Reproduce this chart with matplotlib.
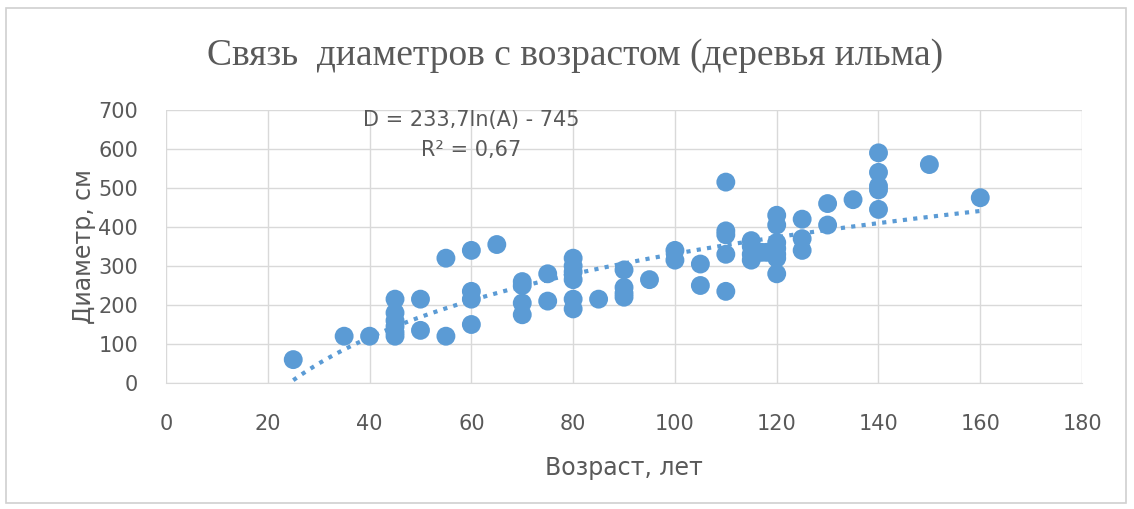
import numpy as np
import matplotlib
matplotlib.use("Agg")
from matplotlib import pyplot as plt
from matplotlib.patches import Rectangle

# возраст (лет) и диаметр (см)
age = [25, 35, 40,
       45, 45, 45, 45, 45, 45,
       50, 50, 55, 55,
       60, 60, 60, 60, 65,
       70, 70, 70, 70, 75, 75,
       80, 80, 80, 80, 80, 80, 85,
       90, 90, 90, 90, 95, 100, 100, 105, 105,
       110, 110, 110, 110, 110,
       115, 115, 115, 115, 117, 118,
       120, 120, 120, 120, 120, 120, 120,
       125, 125, 125, 130, 130, 135,
       140, 140, 140, 140, 140, 150, 160]
diameter = [60, 120, 120,
            215, 180, 160, 145, 130, 120,
            215, 135, 320, 120,
            340, 235, 215, 150, 355,
            260, 250, 205, 175, 280, 210,
            320, 300, 285, 265, 215, 190, 215,
            290, 245, 230, 220, 265, 340, 315, 305, 250,
            515, 390, 380, 330, 235,
            365, 350, 330, 315, 335, 335,
            430, 405, 360, 345, 330, 320, 280,
            420, 370, 340, 460, 405, 470,
            590, 540, 505, 495, 445, 560, 475]

# логарифмический тренд из подписи на графике
trend_a = 233.7
trend_b = -745
trend_range = (25, 160)

x_ticks = [0, 20, 40, 60, 80, 100, 120, 140, 160, 180]
y_ticks = [0, 100, 200, 300, 400, 500, 600, 700]

blue = "#5B9BD5"
grid = "#D9D9D9"
text_gray = "#595959"
sans = ["Liberation Sans Narrow", "DejaVu Sans"]

fig = plt.figure(figsize=(11.34, 5.09), dpi=100)
fig.patches.append(Rectangle((0.005, 0.012), 0.988, 0.972, transform=fig.transFigure,
                             fill=False, edgecolor="#D0D0D0", linewidth=1.2))

ax = fig.add_axes([0.1464, 0.2475, 0.8078, 0.5365])
ax.scatter(age, diameter, s=185, color=blue, edgecolors="none", zorder=3)

xs = np.linspace(trend_range[0], trend_range[1], 200)
ax.plot(xs, trend_a * np.log(xs) + trend_b, color=blue, linewidth=3.0,
        linestyle=(0, (1.0, 1.5)), dash_capstyle="butt", zorder=2)

ax.set_xlim(0, 180)
ax.set_ylim(0, 700)
ax.set_xticks(x_ticks)
ax.set_yticks(y_ticks)
ax.grid(True, color=grid, linewidth=1.0)
ax.set_axisbelow(True)
for side in ["top", "right", "left"]:
    ax.spines[side].set_visible(False)
ax.spines["bottom"].set_color(grid)
ax.tick_params(length=0, labelsize=15, labelcolor=text_gray)
ax.tick_params(axis="x", pad=22)
ax.tick_params(axis="y", pad=20)
for lbl in ax.get_xticklabels() + ax.get_yticklabels():
    lbl.set_family(sans)

ax.set_xlabel("Возраст, лет", fontsize=17, color=text_gray, family=sans, labelpad=16)
ax.set_ylabel("Диаметр, см", fontsize=17, color=text_gray, family=sans, labelpad=2)

fig.text(0.507, 0.89, "Связь  диаметров с возрастом (деревья ильма)",
         ha="center", va="center", fontsize=27, color=text_gray,
         family=["Liberation Serif", "DejaVu Serif"])

ax.text(60, 675, "D = 233,7ln(A) - 745", ha="center", va="center",
        fontsize=15, color=text_gray, family=sans)
ax.text(60, 597, "R² = 0,67", ha="center", va="center",
        fontsize=15, color=text_gray, family=sans)

fig.savefig("out.png", dpi=100, facecolor="white")
